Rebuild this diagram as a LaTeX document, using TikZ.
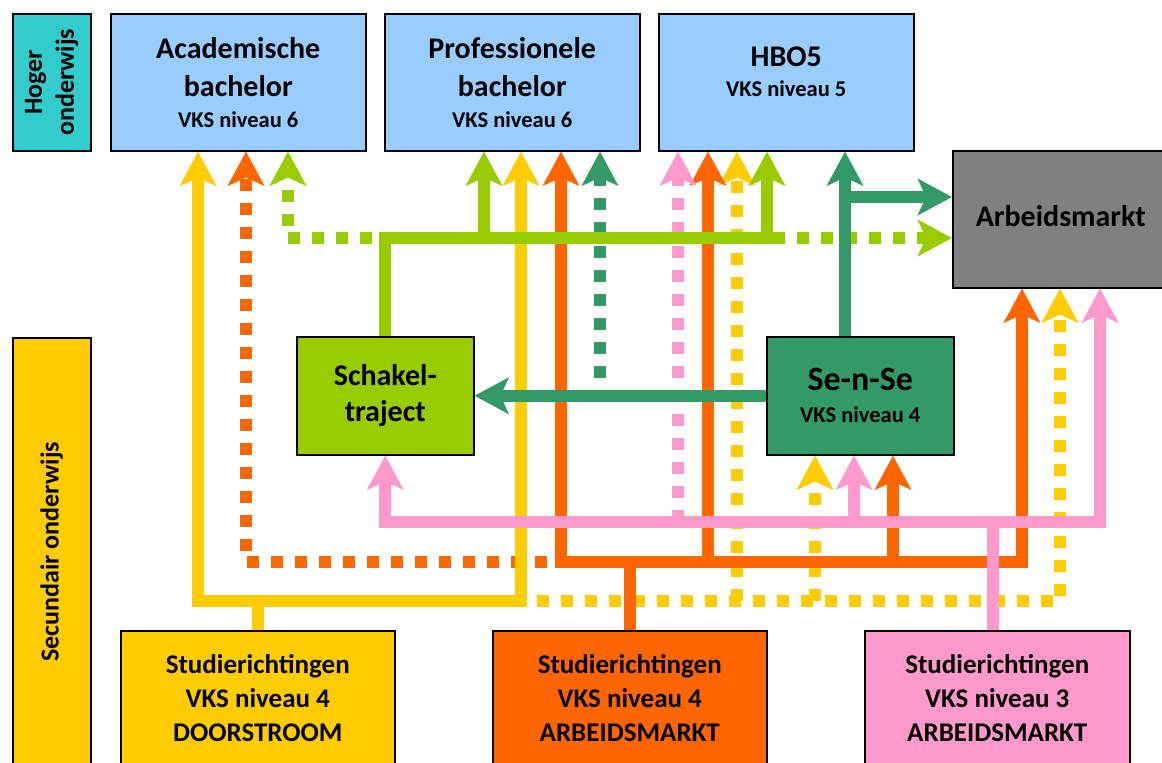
\documentclass[tikz,border=0pt]{standalone}
\usepackage{fontspec}
\setmainfont{Carlito}
\usetikzlibrary{arrows.meta,positioning}

\definecolor{turkoois}{HTML}{33CCCC}
\definecolor{lichtblauw}{HTML}{99CCFF}
\definecolor{grijs}{HTML}{808080}
\definecolor{geel}{HTML}{FFCC00}
\definecolor{lichtgroen}{HTML}{99CC00}
\definecolor{donkergroen}{HTML}{339966}
\definecolor{oranje}{HTML}{FF6600}
\definecolor{roze}{HTML}{FF99CC}

\newcommand{\vks}[1]{{\fontsize{22.5}{27}\selectfont #1}}

\begin{document}
\begin{tikzpicture}[x=1pt,y=-1pt,
        box/.style={draw=black, line width=1.5pt, inner sep=0pt, anchor=north west, align=center,
            font=\bfseries\fontsize{30}{38}\selectfont},
        txt/.style={inner sep=0pt, align=center},
        arr/.style={line width=12pt, -{Stealth[length=34pt,width=36pt,inset=8pt]}},
        dots/.style={dash pattern=on 12pt off 12pt}]
        \useasboundingbox (0,0) rectangle (1162,763);
        \clip (0,0) rectangle (1162,763);

        % hoger onderwijs
        \node[box, fill=turkoois, minimum width=78pt, minimum height=137pt] (hoger) at (12,13) {};
        \node[txt, rotate=90, font=\bfseries\fontsize{26}{32}\selectfont] (hogertxt) at (hoger.center) {Hoger\\onderwijs};
        \node[box, fill=lichtblauw, minimum width=255pt, minimum height=137pt] (acad) at (110,13) {Academische\\bachelor\\[-7pt]\vks{VKS niveau 6}};
        \node[box, fill=lichtblauw, minimum width=255pt, minimum height=137pt] (prof) at (384,13) {Professionele\\bachelor\\[-7pt]\vks{VKS niveau 6}};
        \node[box, fill=lichtblauw, minimum width=255pt, minimum height=137pt] (hbo) at (658,13) {};
        \node[txt, font=\bfseries\fontsize{30}{38}\selectfont, below=34pt of hbo.north] (hbotxt) {HBO5\\[-8pt]\vks{VKS niveau 5}};
        \node[box, fill=grijs, minimum width=216pt, minimum height=137pt] (arbeid) at (952,150) {\raisebox{6pt}{Arbeidsmarkt}};

        % secundair onderwijs
        \node[box, fill=geel, minimum width=78pt, minimum height=428pt] (secund) at (12,337) {};
        \node[txt, rotate=90, font=\bfseries\fontsize{26}{32}\selectfont] (secundtxt) at (secund.center) {Secundair onderwijs};
        \node[box, fill=lichtgroen, minimum width=177pt, minimum height=118pt] (schakel) at (296,336) {Schakel-\\[-2pt]traject};
        \node[box, fill=donkergroen, minimum width=187pt, minimum height=118pt] (sense) at (766,336) {{\fontsize{34}{38}\selectfont Se-n-Se}\\[-6pt]\vks{VKS niveau 4}};
        \node[box, fill=geel, minimum width=274pt, minimum height=135pt, font=\bfseries\fontsize{27}{34}\selectfont] (door) at (120,630) {Studierichtingen\\VKS niveau 4\\DOORSTROOM};
        \node[box, fill=oranje, minimum width=274pt, minimum height=135pt, font=\bfseries\fontsize{27}{34}\selectfont] (amarkt) at (492,630) {Studierichtingen\\VKS niveau 4\\ARBEIDSMARKT};
        \node[box, fill=roze, minimum width=265pt, minimum height=135pt, font=\bfseries\fontsize{27}{34}\selectfont] (niv3) at (864,630) {Studierichtingen\\VKS niveau 3\\ARBEIDSMARKT};

        % doorstroom (dotted part)
        \draw[arr, geel, dots] (537,601) -| (1060,0 |- arbeid.south);
        \foreach \x/\doel in {737/hbo, 815/sense}{
            \draw[arr, geel, dots] (\x,601) -- (\x,0 |- \doel.south);
        }

        % arbeidsmarkt niveau 4
        \draw[arr, oranje, dots] (547,562) -| (246,0 |- acad.south);
        \draw[arr, oranje] (amarkt.north) -- ++(0,-68) -| (561,0 |- prof.south);
        \draw[arr, oranje] (amarkt.north) -- ++(0,-68) -| (1022,0 |- arbeid.south);
        \foreach \x/\doel in {708/hbo, 893/sense}{
            \draw[arr, oranje] (\x,562) -- (\x,0 |- \doel.south);
        }

        % doorstroom
        \draw[arr, geel] (door.north) -- ++(0,-29) -| (198,0 |- acad.south);
        \draw[arr, geel] (door.north) -- ++(0,-29) -| (521,0 |- prof.south);

        % arbeidsmarkt niveau 3
        \draw[arr, roze, dots] (678,522) -- (678,0 |- hbo.south);
        \draw[arr, roze] ([xshift=-4pt]niv3.north) -- ++(0,-108) -| (schakel.south);
        \draw[arr, roze] ([xshift=-4pt]niv3.north) -- ++(0,-108) -| (1100,0 |- arbeid.south);
        \draw[arr, roze] (854,522) -- (854,0 |- sense.south);

        % se-n-se (dotted)
        \draw[arr, donkergroen, dots, dash phase=12pt] (600,390) -- (600,0 |- prof.south);

        % schakeltraject
        \draw[arr, lichtgroen] (schakel.north) -- ++(0,-98) -| (484,0 |- prof.south);
        \draw[arr, lichtgroen] (schakel.north) -- ++(0,-98) -| (767,0 |- hbo.south);
        \draw[arr, lichtgroen, dots] (372,238) -| (288,0 |- acad.south);
        \draw[arr, lichtgroen, dots] (773,238) -- (arbeid.west |- 0,238);

        % se-n-se
        \draw[arr, donkergroen] (sense.west) -- (schakel.east);
        \draw[arr, donkergroen] (845,0 |- sense.north) -- (845,0 |- hbo.south);
        \draw[arr, donkergroen] (845,197) -- (arbeid.west |- 0,197);
    \end{tikzpicture}
\end{document}
